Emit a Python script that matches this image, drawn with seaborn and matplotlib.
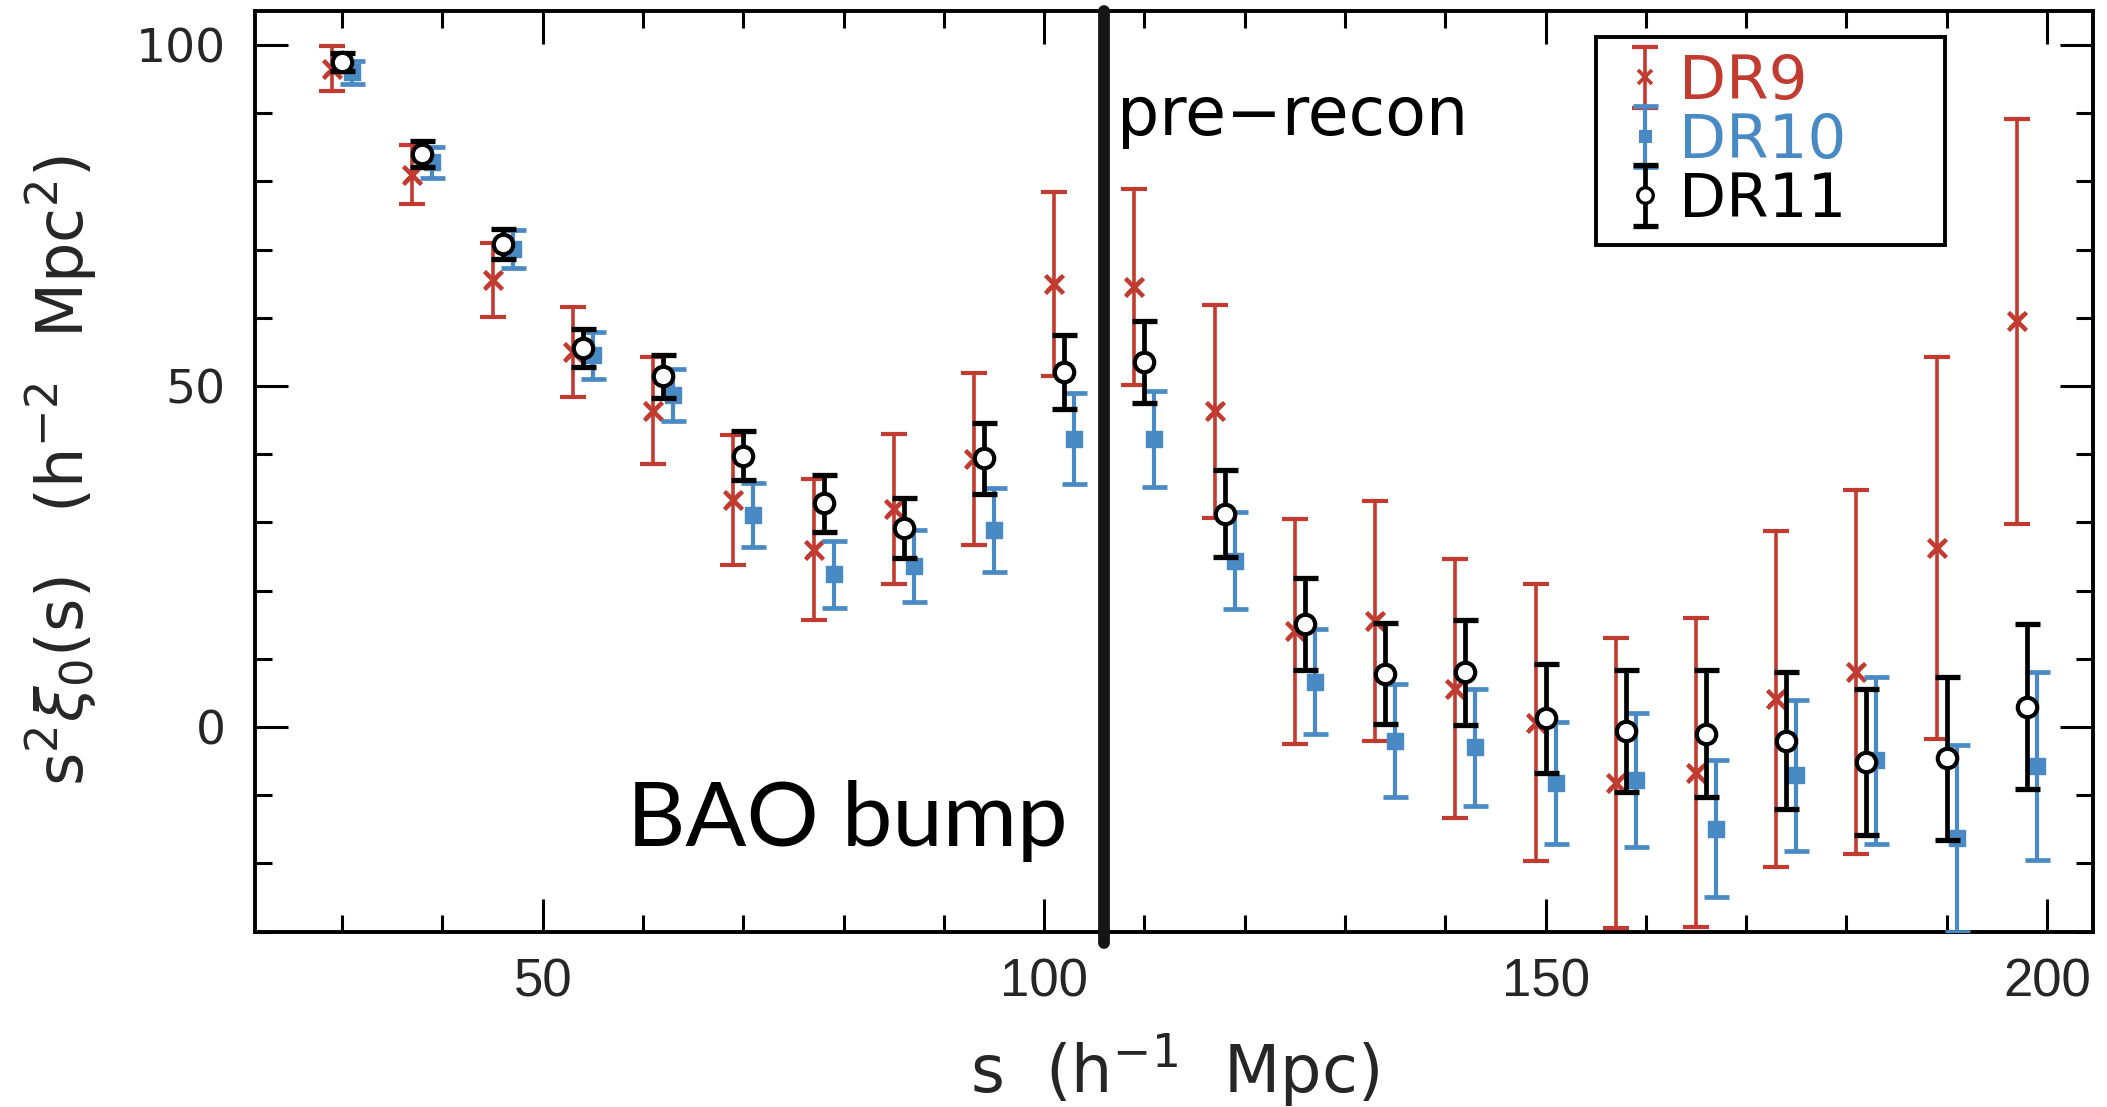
import numpy as np
import pandas as pd
import seaborn as sns
import matplotlib
matplotlib.use("Agg")
import matplotlib.pyplot as plt
from matplotlib.ticker import MultipleLocator

# ---------------- data ----------------
s_bins = [30, 38, 46, 54, 62, 70, 78, 86, 94, 102, 110,
          118, 126, 134, 142, 150, 158, 166, 174, 182, 190, 198]

dr9_xi = [96.5, 81.0, 65.5, 55.0, 46.4, 33.3, 26.0, 32.0, 39.3, 64.9, 64.5,
          46.3, 14.0, 15.6, 5.6, 0.6, -8.2, -6.7, 4.1, 8.1, 26.3, 59.5]
dr9_err = [3.3, 4.3, 5.4, 6.6, 7.8, 9.5, 10.3, 11.0, 12.6, 13.5, 14.4,
           15.6, 16.5, 17.6, 19.0, 20.3, 21.3, 22.7, 24.6, 26.7, 28.0, 29.7]

dr10_xi = [96.0, 82.8, 70.1, 54.5, 48.7, 31.1, 22.4, 23.6, 28.9, 42.3, 42.2,
           24.4, 6.6, -2.0, -3.0, -8.2, -7.8, -14.9, -7.1, -4.9, -16.3, -5.7]
dr10_err = [1.7, 2.3, 2.8, 3.4, 3.8, 4.7, 4.9, 5.3, 6.2, 6.7, 7.0,
            7.1, 7.7, 8.3, 8.6, 9.0, 9.8, 10.0, 11.1, 12.2, 13.7, 13.8]

dr11_xi = [97.5, 84.0, 70.8, 55.6, 51.4, 39.8, 32.8, 29.2, 39.4, 52.1, 53.5,
           31.3, 15.1, 7.8, 8.0, 1.3, -0.6, -1.0, -2.0, -5.2, -4.6, 3.0]
dr11_err = [1.3, 1.9, 2.2, 2.8, 3.1, 3.6, 4.2, 4.4, 5.2, 5.4, 6.0,
            6.4, 6.7, 7.4, 7.7, 8.0, 8.9, 9.3, 10.0, 10.7, 12.0, 12.1]

series_names = ["DR9", "DR10", "DR11"]
x_shift = {"DR9": -1.0, "DR10": 1.0, "DR11": 0.0}
bao_line_s = 106
x_major_ticks = [50, 100, 150, 200]
y_major_ticks = [0, 50, 100]

# ---------------- styling ----------------
RED = "#c23b30"
BLUE = "#4a8ac4"
BLACK = "#000000"

sns.set_theme(style="ticks")
plt.rcParams['font.family'] = ['DejaVu Sans']
plt.rcParams['mathtext.fontset'] = 'dejavusans'

fig = plt.figure(figsize=(21.07, 11.07), dpi=100)
ax = fig.add_axes([0.1210, 0.1585, 0.8724, 0.8316])

# long-format table for seaborn
frames = []
for name, xi, er in [("DR9", dr9_xi, dr9_err), ("DR10", dr10_xi, dr10_err),
                     ("DR11", dr11_xi, dr11_err)]:
    frames.append(pd.DataFrame({"s": np.array(s_bins) + x_shift[name],
                                "xi": xi, "err": er, "sample": name}))
df = pd.concat(frames, ignore_index=True)

styles = {
    "DR9": dict(color=RED, marker="x", ms=13, mew=3.2, mfc=RED, mec=RED,
                elw=2.6, cap=9.5, z=3),
    "DR10": dict(color=BLUE, marker="s", ms=11, mew=1.0, mfc=BLUE, mec=BLUE,
                 elw=3.0, cap=9.0, z=4),
    "DR11": dict(color=BLACK, marker="o", ms=14, mew=3.0, mfc="white", mec=BLACK,
                 elw=3.4, cap=9.0, z=5),
}

handles = []
for name in series_names:
    st = styles[name]
    sub = df[df["sample"] == name]
    h = ax.errorbar(sub["s"], sub["xi"], yerr=sub["err"], fmt=st["marker"],
                    ms=st["ms"] * 0.8, mfc=st["mfc"], mec=st["mec"],
                    ecolor=st["color"], elinewidth=st["elw"],
                    capsize=st["cap"], capthick=st["elw"] + 0.4,
                    zorder=st["z"])
    h.lines[0].set_markeredgewidth(st["mew"] * 0.8)
    handles.append(h)
    # seaborn draws the full-size markers on top
    sns.scatterplot(data=sub, x="s", y="xi", ax=ax, marker=st["marker"],
                    s=st["ms"] ** 2, color=st["mfc"] if name != "DR9" else RED,
                    edgecolor=st["mec"], linewidth=st["mew"], legend=False,
                    zorder=st["z"] + 0.5)

# vertical separator line
ax.axvline(bao_line_s, ymin=-0.012, ymax=1.0, color="#151515", lw=8.5,
           clip_on=False, zorder=6)

ax.set_xlim(21.3, 204.6)
ax.set_ylim(-30, 105)
ax.set_xticks(x_major_ticks)
ax.set_yticks(y_major_ticks)
ax.xaxis.set_minor_locator(MultipleLocator(10))
ax.yaxis.set_minor_locator(MultipleLocator(10))
ax.tick_params(which="major", direction="in", top=True, right=True,
               length=24, width=2.2, color="black")
ax.tick_params(which="minor", direction="in", top=True, right=True,
               length=12, width=2.2, color="black")
ax.tick_params(axis="x", which="major", pad=19, labelsize=38)
ax.tick_params(axis="y", which="major", pad=21, labelsize=34)
for lab in ax.get_xticklabels():
    lab.set_family(["Liberation Sans", "DejaVu Sans"])
for sp in ax.spines.values():
    sp.set_color("black")
    sp.set_linewidth(2.8)

ax.set_xlabel(r"s  (h$^{-1}$  Mpc)", fontsize=47)
ax.xaxis.set_label_coords(0.5, -0.1505)
ax.xaxis.label.set_va("center")
ax.set_ylabel(r"s$^2\xi_0$(s)   (h$^{-2}$  Mpc$^2$)", fontsize=46)
ax.yaxis.set_label_coords(-0.1053, 0.501)
ax.yaxis.label.set_va("center")

ax.text(102.3, -17.5, "BAO bump", fontsize=65, family=["Lato", "DejaVu Sans"],
        ha="right", va="baseline", color="black", zorder=7)
ax.text(107.3, 86.8, "pre\u2212recon", fontsize=48,
        family=["DejaVu Sans"], ha="left", va="baseline",
        color="black", zorder=7)

leg = ax.legend(handles, series_names, loc="upper left",
                bbox_to_anchor=(0.7296, 0.9714, 0.1899, 0.0), mode="expand",
                borderaxespad=0, frameon=True, fancybox=False, framealpha=1,
                edgecolor="black", fontsize=44, handlelength=1.1,
                handletextpad=0.0, borderpad=0.25, labelspacing=0.0)
leg.get_frame().set_linewidth(2.8)
for txt, c in zip(leg.get_texts(), [RED, BLUE, BLACK]):
    txt.set_color(c)

fig.savefig("out.png", dpi=100)
